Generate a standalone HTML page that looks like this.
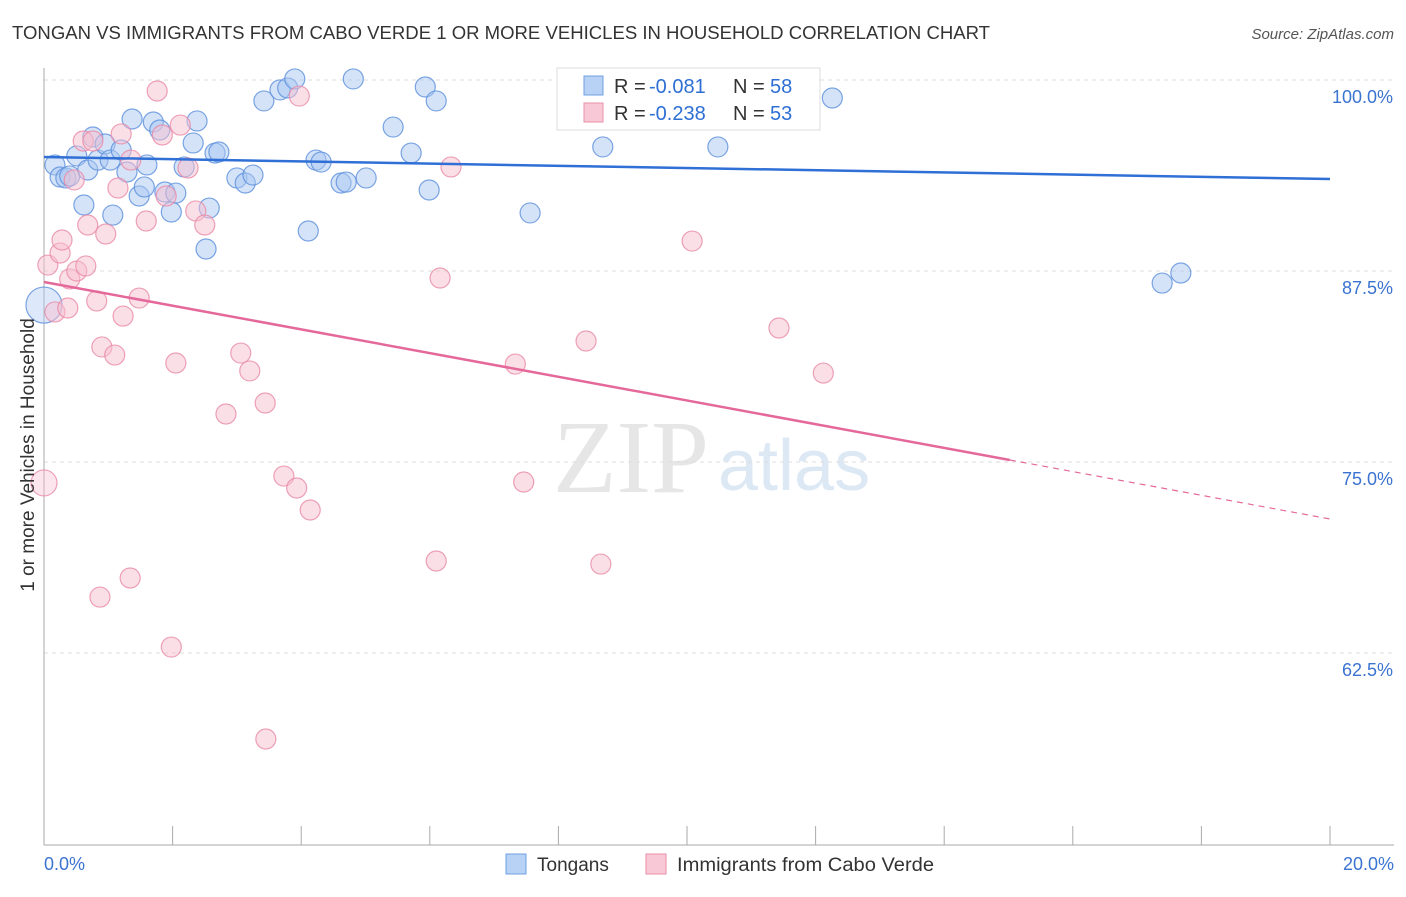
<!DOCTYPE html>
<html><head><meta charset="utf-8"><style>
body{margin:0;background:#fff;font-family:"Liberation Sans",sans-serif;}
svg text{font-family:"Liberation Sans",sans-serif;}
</style></head><body>
<svg id="chart" width="1406" height="892">
<text x="12" y="39" font-size="18" fill="#333" textLength="978" lengthAdjust="spacingAndGlyphs">TONGAN VS IMMIGRANTS FROM CABO VERDE 1 OR MORE VEHICLES IN HOUSEHOLD CORRELATION CHART</text>
<text x="1394" y="39" font-size="15" fill="#555" text-anchor="end" font-style="italic">Source: ZipAtlas.com</text>
<text x="553" y="492" font-size="104" fill="#e6e6e6" style="font-family:'Liberation Serif',serif">ZIP</text>
<text x="718" y="490" font-size="72" fill="#dde8f5">atlas</text>
<g id="grid"></g><g id="axes"></g><g id="pts"></g><g id="trend"></g>
<text transform="translate(34,455) rotate(-90)" font-size="19" fill="#333" text-anchor="middle">1 or more Vehicles in Household</text>
<g>
<rect x="557" y="68" width="263" height="62" fill="#fff" stroke="#ddd"/>
<rect x="584" y="76" width="19" height="19" fill="#b8d2f5" stroke="#6f9fe0"/>
<rect x="584" y="103" width="19" height="19" fill="#f9c8d6" stroke="#ea8fa9"/>
<text x="614" y="93" font-size="20" fill="#333">R =</text>
<text x="649" y="93" font-size="20" fill="#2e6fd4">-0.081</text>
<text x="733" y="93" font-size="20" fill="#333">N =</text>
<text x="770" y="93" font-size="20" fill="#2e6fd4">58</text>
<text x="614" y="120" font-size="20" fill="#333">R =</text>
<text x="649" y="120" font-size="20" fill="#2e6fd4">-0.238</text>
<text x="733" y="120" font-size="20" fill="#333">N =</text>
<text x="770" y="120" font-size="20" fill="#2e6fd4">53</text>
</g>
<g>
<rect x="506" y="854" width="20" height="20" fill="#b8d2f5" stroke="#6f9fe0"/>
<text x="537" y="871" font-size="19" fill="#333">Tongans</text>
<rect x="646" y="854" width="20" height="20" fill="#f9c8d6" stroke="#ea8fa9"/>
<text x="677" y="871" font-size="19" fill="#333" textLength="257" lengthAdjust="spacingAndGlyphs">Immigrants from Cabo Verde</text>
</g>
</svg>
<script>
const yTicks=[100,87.5,75,62.5];
const yTickLabels=["100.0%","87.5%","75.0%","62.5%"];
const tongX=[0.17,0.25,0.34,0.40,0.51,0.62,0.68,0.76,0.84,0.95,1.03,1.07,1.20,1.29,1.37,1.48,1.56,1.60,1.70,1.80,1.88,1.98,2.05,2.18,2.32,2.38,2.52,2.57,2.66,2.72,3.00,3.13,3.25,3.42,3.67,3.79,3.90,4.11,4.23,4.31,4.62,4.70,4.81,5.01,5.43,5.71,5.93,5.99,6.10,7.56,8.21,8.23,8.69,10.48,12.26,17.39,17.68,0.0];
const tongY=[94.44,93.65,93.59,93.72,95.03,91.82,94.11,96.27,94.76,95.81,94.76,91.16,95.42,93.98,97.45,92.41,93.00,94.44,97.25,96.73,92.67,91.36,92.60,94.31,95.88,97.32,88.94,91.62,95.22,95.29,93.59,93.26,93.78,98.63,99.35,99.48,100.07,90.12,94.76,94.63,93.26,93.32,100.07,93.59,96.92,95.22,99.54,92.80,98.63,91.30,98.69,97.91,95.62,95.62,98.82,86.71,87.37,85.27];
const cvX=[0.06,0.17,0.25,0.28,0.37,0.40,0.47,0.51,0.61,0.65,0.68,0.76,0.82,0.90,0.96,1.10,1.15,1.20,1.23,1.34,1.35,1.48,1.59,1.76,1.84,1.90,1.98,2.05,2.12,2.24,2.36,2.50,2.83,3.06,3.20,3.44,3.45,3.73,3.93,3.97,4.14,6.10,6.16,6.33,7.33,7.46,8.43,8.66,10.08,11.43,12.12,0.87,0.0];
const cvY=[87.89,84.82,88.68,89.53,85.08,86.98,93.46,87.50,96.01,87.83,90.51,96.01,85.54,82.53,89.92,82.00,92.93,96.47,84.55,67.41,94.76,85.73,90.77,99.28,96.40,92.41,62.89,81.48,97.05,94.24,91.43,90.51,78.14,82.13,80.96,78.86,56.87,74.08,73.30,98.95,71.86,68.52,87.04,94.31,81.41,73.69,82.92,68.32,89.46,83.77,80.82,66.16,73.63];
const tongTrend=[94.96,93.52];
const cvTrend=[86.78,71.27];
const NS="http://www.w3.org/2000/svg";
const X=v=>44+v/20*1286, Y=v=>80+(100-v)/12.5*191;
function mk(t,a,p){const e=document.createElementNS(NS,t);for(const k in a)e.setAttribute(k,a[k]);document.getElementById(p).appendChild(e);return e;}
yTicks.forEach((t,i)=>{
 const l=mk('line',{x1:44,x2:1394,y1:Y(t),y2:Y(t),stroke:'#ddd','stroke-dasharray':'4,4'},'grid');
 
 
 const tx=mk('text',{x:1393,y:Y(t)+23,'font-size':18,fill:'#3b73d1','text-anchor':'end'},'grid');
 tx.textContent=yTickLabels[i];
 
 
});
const ax=mk('line',{x1:44,x2:44,y1:68,y2:845,stroke:'#aaa'},'axes');


const bx=mk('line',{x1:44,x2:1394,y1:845,y2:845,stroke:'#aaa'},'axes');


for(let i=0;i<=10;i++){const t=mk('line',{x1:X(i*2),x2:X(i*2),y1:826,y2:845,stroke:'#aaa'},'axes');
 
 }
[["0.0%",44,'start'],["20.0%",1394,'end']].forEach(a=>{const t=mk('text',{x:a[1],y:870,'font-size':18,fill:'#3b73d1','text-anchor':a[2]},'axes');t.textContent=a[0];
 
 });
function pts(xs,ys,fill,stroke,name){xs.forEach((x,i)=>{const big=(x===0);const c=mk('circle',{cx:X(x),cy:Y(ys[i]),r:big?(name==='tongan-point'?18:13):10,fill:fill,'fill-opacity':big?0.4:0.5,stroke:stroke,'stroke-opacity':0.8,'stroke-width':1.2},'pts');
 
 });}
pts(tongX,tongY,'#a9c8f2','#5b8fdc','tongan-point');
pts(cvX,cvY,'#f8bfd0','#e88aa6','cabo-verde-point');
const tl=mk('line',{x1:X(0),y1:Y(tongTrend[0]),x2:X(20),y2:Y(tongTrend[1]),stroke:'#2f6fd6','stroke-width':2.5},'trend');


const xm=15.02, ym=cvTrend[0]+(cvTrend[1]-cvTrend[0])*xm/20;
const pl=mk('line',{x1:X(0),y1:Y(cvTrend[0]),x2:X(xm),y2:Y(ym),stroke:'#e5689a','stroke-width':2.5},'trend');


const pd=mk('line',{x1:X(xm),y1:Y(ym),x2:X(20),y2:Y(cvTrend[1]),stroke:'#e5689a','stroke-width':1.2,'stroke-dasharray':'6,5'},'trend');


</script>
</body></html>
